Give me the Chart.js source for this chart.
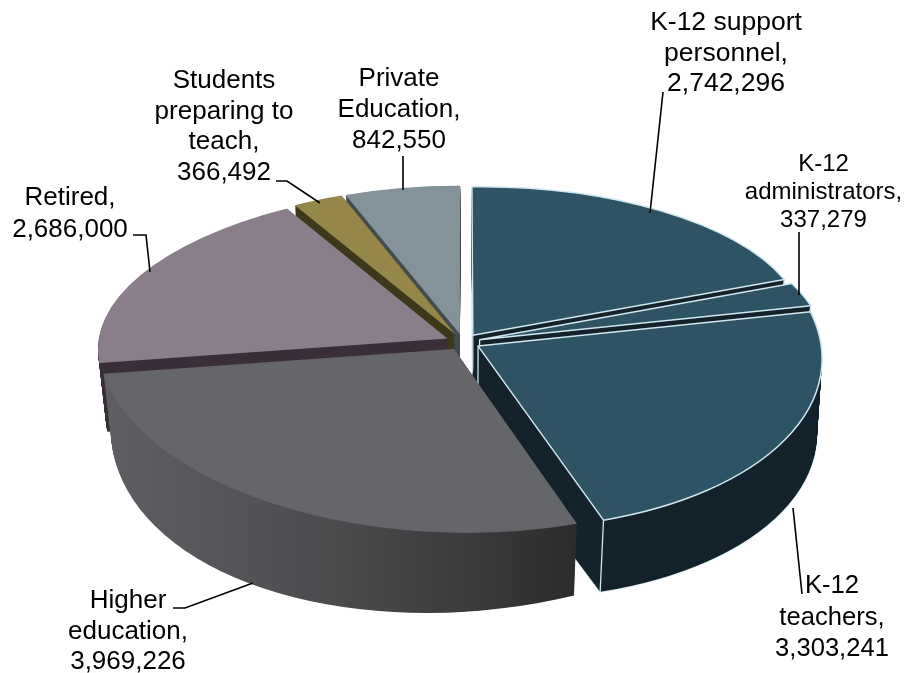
<!DOCTYPE html>
<html>
<head>
<meta charset="utf-8">
<style>
  html, body { margin: 0; padding: 0; background: #ffffff; }
  canvas { display: block; }
</style>
<script src="https://cdn.jsdelivr.net/npm/chart.js@4"></script>
</head>
<body>
<canvas id="pie" width="906" height="673"></canvas>
<script>
// Education workforce by segment
const categories = ['K-12 support personnel', 'K-12 administrators', 'K-12 teachers',
  'Higher education', 'Retired', 'Students preparing to teach', 'Private Education'];
const members = [2742296, 337279, 3303241, 3969226, 2686000, 366492, 842550];

const faceColors = ['#2d5364', '#2d5364', '#2d5364', '#646669', '#8b7e8b', '#95864a', '#84929a'];
const wallColors = ['#14232b', '#14232b', '#14232b', null, '#3a2f39', '#3e381a', '#444c52'];
const outlined = [true, true, true, false, false, false, false];
const wallBulge = [0, 0, 14, 36, 0, 0, 0];

// Painter's order for the tilted pie: back slices first, front slices last
const paintOrder = [6, 5, 0, 1, 4, 2, 3];

// Camera used to tilt the pie; the wedge sizes still come from the doughnut controller
const view = { cx: 463, cy: 342, a: 347, b: 165, depth: 70, persp: 0.103, sink: 0.022, explode: 0.05 };
const outlineColor = '#cfe6ee';

function project(u, v, z) {
  const w = 1 - view.persp * v + view.sink * z;
  return { x: view.cx + view.a * u / w, y: view.cy + (view.b * v + view.depth * z) / w };
}

// Affine matrix that carries a library arc onto the tilted plane at depth z.
// A pull on the hub fattens the lower rim of the deep slices towards the viewer.
function sliceMatrix(arc, z, pull) {
  const s = arc.startAngle, e = arc.endAngle, m = (s + e) / 2, r = arc.outerRadius;
  const ox = view.explode * Math.cos(m), oy = view.explode * Math.sin(m);
  const p0 = project(ox, oy, z);
  const pm = project(ox + Math.cos(m), oy + Math.sin(m), z);
  const len = Math.hypot(pm.x - p0.x, pm.y - p0.y);
  const hubX = p0.x - (pull || 0) * z * (pm.x - p0.x) / len;
  const hubY = p0.y - (pull || 0) * z * (pm.y - p0.y) / len;
  const p1 = project(ox + Math.cos(s), oy + Math.sin(s), z);
  const p2 = project(ox + Math.cos(e), oy + Math.sin(e), z);
  const s1x = r * Math.cos(s), s1y = r * Math.sin(s), s2x = r * Math.cos(e), s2y = r * Math.sin(e);
  const t1x = p1.x - hubX, t1y = p1.y - hubY, t2x = p2.x - hubX, t2y = p2.y - hubY;
  const det = s1x * s2y - s2x * s1y;
  return {
    A: (t1x * s2y - t2x * s1y) / det,
    B: (t1y * s2y - t2y * s1y) / det,
    C: (t2x * s1x - t1x * s2x) / det,
    D: (t2y * s1x - t1y * s2x) / det,
    E: hubX, F: hubY, p0, p1, p2
  };
}

function tracedWedge(ctx, arc, z, pull) {
  const M = sliceMatrix(arc, z, pull);
  ctx.setTransform(M.A, M.B, M.C, M.D, M.E, M.F);
  ctx.beginPath();
  ctx.moveTo(0, 0);
  ctx.arc(0, 0, arc.outerRadius, arc.startAngle, arc.endAngle);
  ctx.closePath();
  ctx.setTransform(1, 0, 0, 1, 0, 0);
  return M;
}

const tiltedPie = {
  id: 'tiltedPie',
  beforeDatasetsDraw(chart) {
    const ctx = chart.ctx;
    const arcs = chart.getDatasetMeta(0).data;
    ctx.save();
    ctx.lineJoin = 'round';
    const higherWall = ctx.createLinearGradient(105, 0, 575, 0);
    higherWall.addColorStop(0, '#5f5f63');
    higherWall.addColorStop(0.5, '#4b4a4d');
    higherWall.addColorStop(1, '#2d2c2d');

    paintOrder.forEach(i => {
      const arc = arcs[i];
      const steps = Math.round(view.depth * 1.2);
      if (outlined[i]) {
        tracedWedge(ctx, arc, 1, wallBulge[i]);
        ctx.strokeStyle = outlineColor;
        ctx.lineWidth = 1.5;
        ctx.stroke();
      }
      ctx.fillStyle = wallColors[i] || higherWall;
      for (let k = steps; k >= 1; k--) {
        tracedWedge(ctx, arc, k / steps, wallBulge[i]);
        ctx.fill();
      }
      if (outlined[i]) {
        const top = sliceMatrix(arc, 0), bottom = sliceMatrix(arc, 1);
        ctx.strokeStyle = outlineColor;
        ctx.lineWidth = 1.3;
        ctx.beginPath();
        ctx.moveTo(top.p0.x, top.p0.y); ctx.lineTo(bottom.p0.x, bottom.p0.y);
        ctx.moveTo(top.p2.x, top.p2.y); ctx.lineTo(bottom.p2.x, bottom.p2.y);
        ctx.stroke();
      }
      // Top face: the library's own arc element, drawn under the tilt matrix.
      // The element paints at its absolute centre, so shift the matrix to cancel that.
      const M = sliceMatrix(arc, 0);
      ctx.save();
      ctx.setTransform(M.A, M.B, M.C, M.D,
        M.E - M.A * arc.x - M.C * arc.y,
        M.F - M.B * arc.x - M.D * arc.y);
      arc.draw(ctx);
      ctx.restore();
      if (outlined[i]) {
        tracedWedge(ctx, arc, 0);
        ctx.strokeStyle = outlineColor;
        ctx.lineWidth = 1.5;
        ctx.stroke();
      }
    });
    ctx.restore();
    return false;
  }
};

// Label blocks: wrapped text lines around each slice's name and value
const labelLines = [
  ['K-12 support', 'personnel,'],
  ['K-12', 'administrators,'],
  ['K-12', 'teachers,'],
  ['Higher', 'education,'],
  ['Retired,'],
  ['Students', 'preparing to', 'teach,'],
  ['Private', 'Education,']
];
const labelStyle = [
  { x: 726, y: 30, size: 26.5, gap: 30.5 },
  { x: 823.5, y: 171, size: 24, gap: 28 },
  { x: 832, y: 593, size: 25.6, gap: 31.5 },
  { x: 128, y: 608, size: 26, gap: 30.5 },
  { x: 70, y: 205, size: 26, gap: 32 },
  { x: 224, y: 88, size: 26, gap: 30.7 },
  { x: 399, y: 86, size: 26, gap: 31 }
];
const leaders = [
  [[663, 92], [650, 213]],
  [[799, 232], [799, 295]],
  [[802, 594], [793, 508]],
  [[173, 608], [185, 608], [253, 583]],
  [[133, 235], [146, 235], [150, 272]],
  [[276, 181], [287, 181], [320, 203]],
  [[403, 156], [403, 190]]
];

const labelPlugin = {
  id: 'sliceLabels',
  afterDraw(chart) {
    const ctx = chart.ctx;
    ctx.save();
    ctx.strokeStyle = '#000000';
    ctx.lineWidth = 1.6;
    leaders.forEach(path => {
      ctx.beginPath();
      path.forEach((pt, n) => n ? ctx.lineTo(pt[0], pt[1]) : ctx.moveTo(pt[0], pt[1]));
      ctx.stroke();
    });
    ctx.fillStyle = '#000000';
    ctx.textAlign = 'center';
    ctx.textBaseline = 'alphabetic';
    members.forEach((value, i) => {
      const s = labelStyle[i];
      ctx.font = s.size + 'px "Liberation Sans", Arial, sans-serif';
      const lines = labelLines[i].concat(value.toLocaleString('en-US'));
      lines.forEach((line, n) => ctx.fillText(line, s.x, s.y + n * s.gap));
    });
    ctx.restore();
  }
};

new Chart(document.getElementById('pie'), {
  type: 'pie',
  data: {
    labels: categories,
    datasets: [{ data: members, backgroundColor: faceColors, borderWidth: 0 }]
  },
  options: {
    responsive: false,
    animation: false,
    layout: { padding: 0 },
    plugins: { legend: { display: false }, tooltip: { enabled: false }, title: { display: false } }
  },
  plugins: [tiltedPie, labelPlugin]
});
</script>
</body>
</html>
